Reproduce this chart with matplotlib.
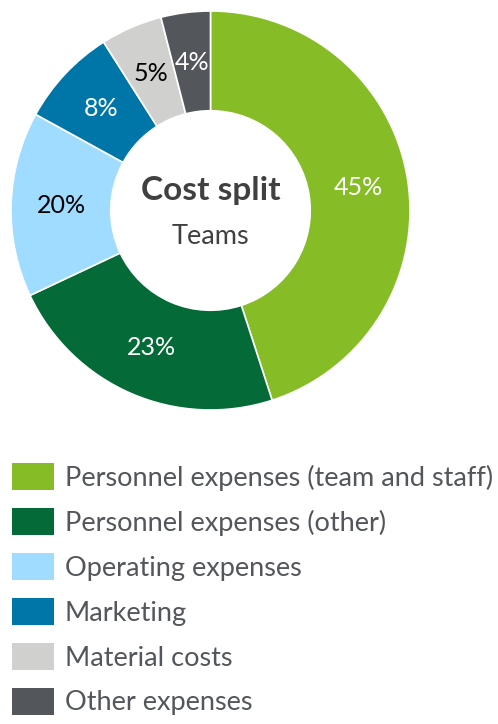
import matplotlib.pyplot as plt
import matplotlib.patches as mpatches

plt.rcParams['font.family'] = ['Lato', 'DejaVu Sans']

categories = ['Personnel expenses (team and staff)', 'Personnel expenses (other)',
              'Operating expenses', 'Marketing', 'Material costs', 'Other expenses']
# wedge sizes as measured from the angles in the picture
shares = [45, 23, 15, 8, 5, 4]
# labels as printed on the chart
pct_labels = ['45%', '23%', '20%', '8%', '5%', '4%']
colors = ['#86BC25', '#046A38', '#A0DCFF', '#0076A8', '#D0D0CE', '#53565A']
label_colors = ['white', 'white', 'black', 'white', 'black', 'white']

W, H = 498, 724
fig = plt.figure(figsize=(W / 100, H / 100), dpi=100)

# donut axes in pixel units: outer circle spans x 12..409, y 12..409
ax = fig.add_axes([11 / W, (H - 410) / H, 399 / W, 399 / H])
wedges, texts = ax.pie(shares, colors=colors, startangle=90, counterclock=False,
                       labels=pct_labels, labeldistance=0.75,
                       wedgeprops=dict(width=0.5, edgecolor='white', linewidth=1.2),
                       textprops=dict(fontsize=18))
for t, c in zip(texts, label_colors):
    t.set_color(c)
    t.set_ha('center')
    t.set_va('center')
ax.set_xlim(-1, 1)
ax.set_ylim(-1, 1)
ax.set_aspect('equal')
ax.axis('off')

ax.text(0, 0.053, 'Cost split', ha='center', va='baseline', fontsize=24,
        fontweight='bold', color='#404040')
ax.text(0, -0.168, 'Teams', ha='center', va='baseline', fontsize=19.5, color='#404040')

handles = [mpatches.Patch(facecolor=c, edgecolor='none') for c in colors]
leg = fig.legend(handles, categories, loc='upper left',
                 bbox_to_anchor=(12 / W, (H - 463) / H),
                 frameon=False, fontsize=19.5, handlelength=1.55, handleheight=1.18,
                 handletextpad=0.4, labelspacing=0.63, borderaxespad=0, borderpad=0)
for t in leg.get_texts():
    t.set_color('#53565A')

fig.savefig('out.png', dpi=100)
